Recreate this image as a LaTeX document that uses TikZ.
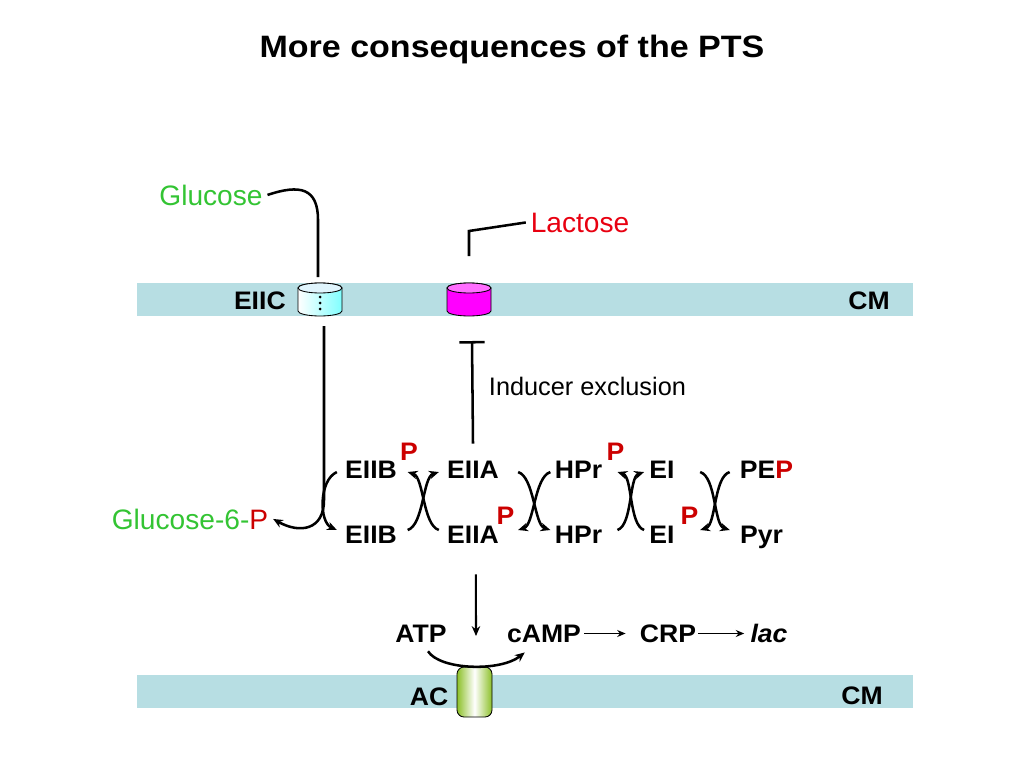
\documentclass[tikz,border=0pt]{standalone}
\usepackage{fontspec}
\setmainfont{Liberation Sans}
\usetikzlibrary{arrows.meta}
\tikzset{every picture/.style={>={Stealth[length=7pt,width=6pt]}}}

\definecolor{memblue}{RGB}{183,222,227}
\definecolor{glcgreen}{RGB}{51,196,51}
\definecolor{lacred}{RGB}{232,0,16}
\definecolor{pred}{RGB}{204,0,0}
\definecolor{acgreen}{RGB}{140,192,40}
\definecolor{lacmag}{RGB}{255,0,255}
\definecolor{lactop}{RGB}{255,110,255}

\begin{document}
\begin{tikzpicture}[
    x=0.025cm, y=-0.025cm,
    lbl/.style={font=\bfseries\fontsize{18}{21}\selectfont, xscale=1.05,
        inner sep=0pt, text height=12.9pt, text depth=0pt},
    phos/.style={lbl, text=pred},
    sugar/.style={font=\fontsize{20}{24}\selectfont},
    rxn/.style={line width=1.8pt},
    thinarrow/.style={line width=1pt, -{Stealth[length=6pt,width=5pt]}},
    cyl/.style={draw=black, line width=0.6pt},
    mem/.style={fill=memblue}
]
    \useasboundingbox (0,0) rectangle (1024,768);

    % membranes
    \fill[mem] (137,283) rectangle (913,316);
    \fill[mem] (137,675) rectangle (913,708);

    % title
    \node[font=\bfseries\fontsize{22}{26}\selectfont, xscale=1.1, anchor=base]
        (title) at (512,58) {More consequences of the PTS};

    % membrane labels
    \node[lbl, anchor=east] (eiic) at (286,300) {EIIC};
    \node[lbl] (cmtop) at (869,300) {CM};
    \node[lbl] (ac) at (429,696) {AC};
    \node[lbl] (cmbot) at (862,695) {CM};

    % EIIC transporter
    \shade[cyl, left color=white, right color=cyan!50]
        (298,288) -- (298,311) arc[start angle=180, end angle=0, x radius=22, y radius=5]
        -- (342,288) arc[start angle=0, end angle=-180, x radius=22, y radius=5] -- cycle;
    \filldraw[cyl, fill=cyan!12] (320,288) ellipse[x radius=22, y radius=5];
    \foreach \y in {297,303,309}
        \fill (320,\y) circle[radius=1.5];

    % lactose permease
    \filldraw[cyl, fill=lacmag]
        (447,288) -- (447,311) arc[start angle=180, end angle=0, x radius=22, y radius=5]
        -- (491,288) arc[start angle=0, end angle=-180, x radius=22, y radius=5] -- cycle;
    \filldraw[cyl, fill=lactop] (469,288) ellipse[x radius=22, y radius=5];

    % adenylate cyclase
    \shade[cyl, rounded corners=5pt, left color=acgreen, right color=acgreen,
        middle color=white] (457,667) rectangle (492,717);

    % sugars
    \coordinate (eiicin) at (318,277);
    \coordinate (eiicout) at (324,326);
    \coordinate (lacin) at (469,256);
    \node[sugar, text=glcgreen, anchor=base] (glc) at (211,205) {Glucose};
    \node[sugar, text=lacred, anchor=base] (lac) at (580,232) {Lactose};
    \node[sugar, text=glcgreen, anchor=base] (g6p) at (190,529)
        {Glucose-6-\textcolor{pred}{P}};

    \draw[rxn] (glc.east) .. controls (300,184) and (318,188) .. (318,220) -- (eiicin);
    \draw[rxn] (lac.west) -- (469,231) -- (lacin);
    \draw[rxn, ->] (eiicout) -- (324,500) .. controls (324,530) and (300,534) .. (g6p.east);

    % phosphorelay
    \node[lbl] (eiib1) at (371,469.5) {EIIB};
    \node[phos] (eiibp) at (409,451.5) {P};
    \node[lbl] (eiia1) at (473,469.5) {EIIA};
    \node[lbl] (hpr1) at (578.5,469.5) {HPr};
    \node[phos] (hprp) at (615.5,451.5) {P};
    \node[lbl] (ei1) at (662,469.5) {EI};
    \node[lbl] (pep) at (766.5,469.5) {PE\textcolor{pred}{P}};

    \node[lbl] (eiib2) at (371,534.5) {EIIB};
    \node[lbl] (eiia2) at (473,534.5) {EIIA};
    \node[phos] (eiiap) at (505.5,515) {P};
    \node[lbl] (hpr2) at (578.5,534.5) {HPr};
    \node[lbl] (ei2) at (662,534.5) {EI};
    \node[phos] (eip) at (689.5,515) {P};
    \node[lbl] (pyr) at (761.5,534.5) {Pyr};

    \draw[rxn, ->] ([xshift=-5.7pt,yshift=-1.8pt]eiib1.west)
        .. controls +(-18,8) and +(-18,-8) .. ([xshift=-5.7pt,yshift=3.2pt]eiib2.west);

    \draw[rxn, ->] ([xshift=7.5pt,yshift=3.2pt]eiib2.east)
        .. controls +(16,-5) and +(-16,5) .. ([xshift=-5.7pt,yshift=-1.8pt]eiia1.west);
    \draw[rxn, ->] ([xshift=-5.7pt,yshift=3.2pt]eiia2.west)
        .. controls +(-16,-5) and +(16,5) .. ([xshift=7.5pt,yshift=-1.8pt]eiib1.east);

    \draw[rxn, ->] ([xshift=13.5pt,yshift=-1.8pt]eiia1.east)
        .. controls +(16,5) and +(-16,-5) .. ([xshift=-3pt,yshift=3.2pt]hpr2.west);
    \draw[rxn, ->] ([xshift=-3pt,yshift=-1.8pt]hpr1.west)
        .. controls +(-16,5) and +(16,-5) .. ([xshift=13.5pt,yshift=3.2pt]eiia2.east);

    \draw[rxn, ->] ([xshift=10.7pt,yshift=3.2pt]hpr2.east)
        .. controls +(15,-5) and +(-15,5) .. ([xshift=-3.6pt,yshift=-1.8pt]ei1.west);
    \draw[rxn, ->] ([xshift=-3.6pt,yshift=3.2pt]ei2.west)
        .. controls +(-15,-5) and +(15,5) .. ([xshift=10.7pt,yshift=-1.8pt]hpr1.east);

    \draw[rxn, ->] ([xshift=18pt,yshift=-1.8pt]ei1.east)
        .. controls +(16,5) and +(-16,-5) .. ([xshift=-7.1pt,yshift=3.2pt]pyr.west);
    \draw[rxn, ->] ([xshift=-7.1pt,yshift=-1.8pt]pep.west)
        .. controls +(-16,5) and +(16,-5) .. ([xshift=18pt,yshift=3.2pt]ei2.east);

    % inducer exclusion
    \coordinate (lacbot) at (472,341);
    \draw[rxn, -{Bar[width=18pt]}] ([yshift=11.7pt]eiia1.north) -- (lacbot);
    \node[font=\fontsize{18}{21}\selectfont, anchor=base west] (index) at (484,395)
        {Inducer exclusion};

    % cAMP signalling
    \node[lbl] (atp) at (421,633.5) {ATP};
    \node[lbl] (camp) at (544,633.5) {cAMP};
    \node[lbl] (crp) at (668,633.5) {CRP};
    \node[lbl] (lacgene) at (769,633.5) {\itshape lac};

    \coordinate (accat) at (476,636);
    \draw[line width=1.5pt, ->] ([xshift=2pt,yshift=-21.7pt]eiia2.south) -- (accat);
    \draw[rxn, ->] ([xshift=5pt,yshift=-6pt]atp.south)
        .. controls (440,670) and (500,672) .. ([xshift=12.8pt,yshift=-6.8pt]camp.south west);
    \draw[thinarrow] ([xshift=2pt]camp.east) -- ([xshift=-10pt]crp.west);
    \draw[thinarrow] ([xshift=1.4pt]crp.east) -- ([xshift=-4.3pt]lacgene.west);
\end{tikzpicture}
\end{document}
